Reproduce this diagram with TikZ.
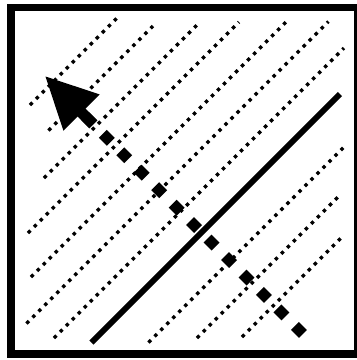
\documentclass[tikz,border=0pt]{standalone}
\begin{document}
\begin{tikzpicture}[x=1pt,y=-1pt,
  dotline/.style={line width=3.4pt,dash pattern=on 3.4pt off 5.1pt,line cap=butt},
  solidline/.style={line width=6pt,line cap=butt},
  dashshaft/.style={line width=11.3pt,dash pattern=on 11.3pt off 13.4pt,line cap=butt},
  frame/.style={line width=7.5pt}]
\useasboundingbox (0,0) rectangle (357,360);
\fill[white] (0,0) rectangle (357,360);
% dotted lines
\draw[dotline] (30,105) -- (117,18);
\draw[dotline] (48.5,130.5) -- (153,26);
\draw[dotline] (44,178) -- (199,23);
\draw[dotline] (28,233) -- (239,22);
\draw[dotline] (31,277) -- (286.5,21.5);
\draw[dotline] (26.5,323.5) -- (328.5,21.5);
\draw[dotline] (54,338) -- (344,48);
\draw[dotline] (148.5,342.5) -- (343.5,147.5);
\draw[dotline] (197,338) -- (341,194);
\draw[dotline] (242,337) -- (342.5,236.5);
% solid line
\coordinate (sa) at (91.5,342.5);
\coordinate (sb) at (340,94);
\draw[solidline] (sa) -- (sb);
% dashed arrow
\coordinate (tail) at (302.9,333.9);
\coordinate (base) at (80.9,111.9);
\coordinate (tip) at (45.5,76.5);
\coordinate (b1) at (99.7,94.4);
\coordinate (b2) at (63.4,130.7);
\draw[dashshaft] (tail) -- (base);
\draw[line width=11.3pt,line cap=butt] (79.4,110.4) -- (93.3,124.3);
\fill (tip) -- (b1) -- (b2) -- cycle;
% frame
\draw[frame] (11.2,7.5) rectangle (358,354);
\end{tikzpicture}
\end{document}
